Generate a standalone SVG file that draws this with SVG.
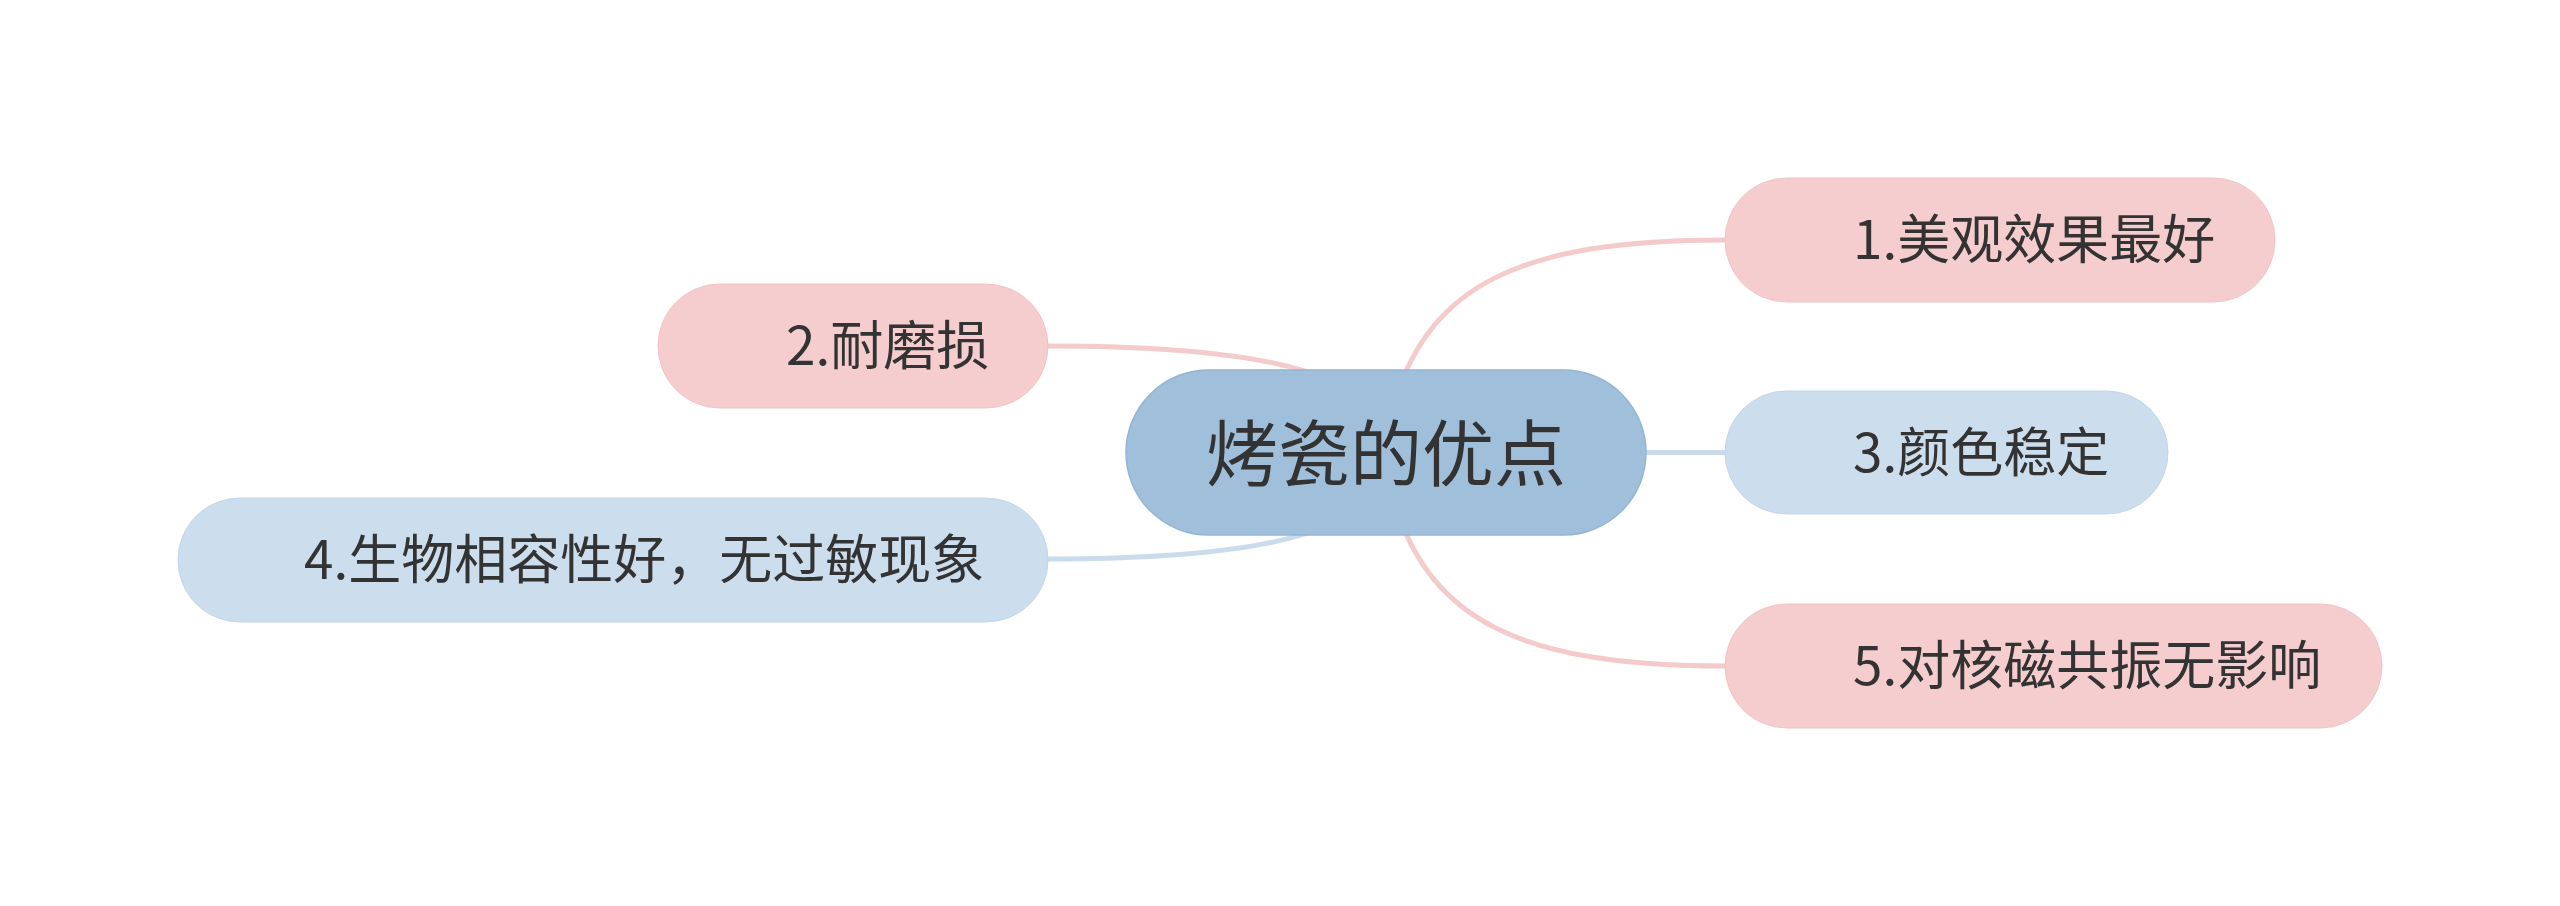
<svg xmlns="http://www.w3.org/2000/svg" width="2560" height="906" viewBox="0 0 2560 906">
<style>
.bg{fill:#ffffff}
.c{fill:none;stroke-width:5;stroke-linecap:round}
.cp{stroke:#F4CACB}
.cb{stroke:#CADCEC}
.root{fill:#A0BFDB;stroke:#94B5D4;stroke-width:1.5}
.pk{fill:#F6CDCE;stroke:#F1C3C4;stroke-width:1}
.bl{fill:#CCDDED;stroke:#C3D6E8;stroke-width:1}
text{font-family:"Noto Sans CJK SC","Noto Sans",sans-serif;fill:#333333}
.t{font-size:53px}
.tr{font-size:72px;text-anchor:middle}
</style>
<rect class="bg" x="0" y="0" width="2560" height="906"/>
<g id="connectors">
<path class="c cp" d="M1395,400 C1432,285 1520,240 1725,240"/>
<path class="c cp" d="M1360,400 C1320,360 1200,346 1048,346"/>
<path class="c cb" d="M1640,452.5 L1726,452.5"/>
<path class="c cb" d="M1360,505 C1320,545 1200,559 1048,559"/>
<path class="c cp" d="M1395,505 C1432,620 1520,666 1725,666"/>
</g>
<g id="root">
<rect class="root" x="1126" y="370" width="520" height="165" rx="82.5"/>
<text class="tr" x="1386" y="480">烤瓷的优点</text>
</g>
<g id="n1">
<rect class="pk" x="1725" y="178" width="550" height="124" rx="62"/>
<text class="t" x="1853" y="259">1.美观效果最好</text>
</g>
<g id="n2">
<rect class="pk" x="658" y="284" width="390" height="124" rx="62"/>
<text class="t" x="786" y="365">2.耐磨损</text>
</g>
<g id="n3">
<rect class="bl" x="1725" y="391" width="443" height="123" rx="61.5"/>
<text class="t" x="1853" y="472">3.颜色稳定</text>
</g>
<g id="n4">
<rect class="bl" x="178" y="498" width="870" height="124" rx="62"/>
<text class="t" x="304" y="579">4.生物相容性好，无过敏现象</text>
</g>
<g id="n5">
<rect class="pk" x="1725" y="604" width="657" height="124" rx="62"/>
<text class="t" x="1853" y="685">5.对核磁共振无影响</text>
</g>
</svg>
